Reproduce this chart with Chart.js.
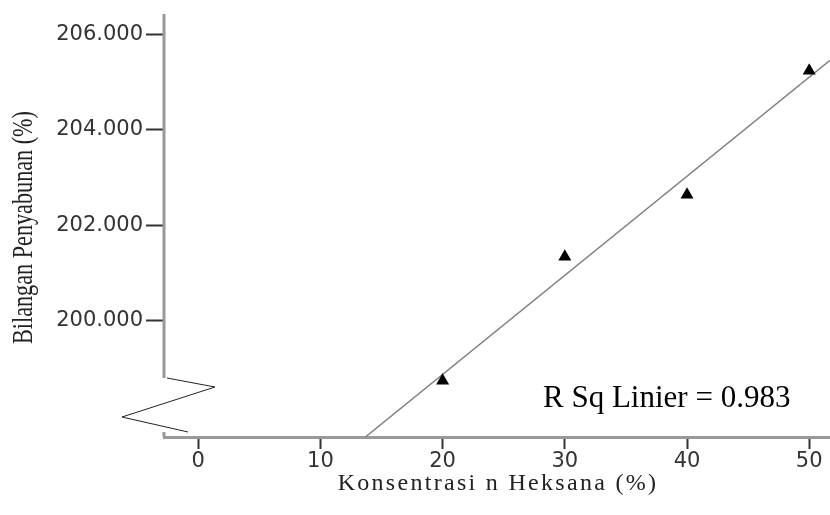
<!DOCTYPE html>
<html lang="id">
<head>
<meta charset="UTF-8">
<title>Bilangan Penyabunan vs Konsentrasi n Heksana</title>
<script src="https://cdn.jsdelivr.net/npm/chart.js@4"></script>
<style>
  html, body { margin: 0; padding: 0; background: #fff; overflow: hidden; }
  canvas { display: block; }
</style>
</head>
<body>
<canvas id="chart" width="830" height="515"></canvas>
<script>
  // values
  const konsentrasi = [20, 30, 40, 50];
  const bilangan = [198.74, 201.34, 202.64, 205.24];
  // fit line, end points as drawn in the picture
  const fitX = [13.68, 51.7];
  const fitY = [197.56, 205.46];
  const xTicks = [0, 10, 20, 30, 40, 50];
  const yTicks = [200, 202, 204, 206];
  const rSquareText = 'R Sq Linier = 0.983';
  const xTitle = 'Konsentrasi n Heksana (%)';
  const yTitle = 'Bilangan Penyabunan (%)';

  /* Axis break, titles and R square label */
  const decor = {
    id: 'decor',
    afterDraw(chart) {
      const ctx = chart.ctx;
      const a = chart.chartArea;
      const breakTop = a.bottom - 59;
      const breakEnd = a.bottom - 5;
      ctx.save();
      // y axis line with a gap for the break
      ctx.strokeStyle = '#999';
      ctx.lineWidth = 3;
      ctx.beginPath();
      ctx.moveTo(a.left, a.top);
      ctx.lineTo(a.left, breakTop);
      ctx.moveTo(a.left, breakEnd);
      ctx.lineTo(a.left, a.bottom);
      ctx.stroke();
      // zigzag
      ctx.strokeStyle = '#222';
      ctx.lineWidth = 1;
      ctx.beginPath();
      ctx.moveTo(a.left + 3, breakTop);
      ctx.lineTo(a.left + 51, breakTop + 9);
      ctx.lineTo(a.left - 42, breakTop + 39);
      ctx.lineTo(a.left + 24, breakTop + 54);
      ctx.stroke();

      ctx.fillStyle = '#222';
      // y title, narrow serif
      ctx.save();
      ctx.translate(24, (a.top + a.bottom) / 2 + 2);
      ctx.rotate(-Math.PI / 2);
      ctx.font = '30px "Liberation Serif"';
      const w = ctx.measureText(yTitle).width;
      ctx.scale(233 / w, 1);
      ctx.textAlign = 'center';
      ctx.textBaseline = 'middle';
      ctx.fillText(yTitle, 0, 0);
      ctx.restore();

      // x title, spaced serif
      ctx.save();
      ctx.font = '24px "Liberation Serif"';
      ctx.letterSpacing = '2.3px';
      ctx.textAlign = 'center';
      ctx.textBaseline = 'middle';
      ctx.fillText(xTitle, (a.left + a.right) / 2 + 1, 484);
      ctx.restore();

      // R square
      ctx.fillStyle = '#000';
      ctx.font = '31px "Liberation Serif"';
      ctx.textAlign = 'left';
      ctx.textBaseline = 'alphabetic';
      ctx.fillText(rSquareText, a.right - 287, a.bottom - 30);
      ctx.restore();
    }
  };

  const ctx = document.getElementById('chart');
  const chart = new Chart(ctx, {
    type: 'scatter',
    data: {
      datasets: [{
          label: 'Bilangan Penyabunan',
          data: konsentrasi.map((x, i) => ({ x: x, y: bilangan[i] })),
          pointStyle: 'triangle',
          pointRadius: 7.5,
          pointHoverRadius: 7.5,
          backgroundColor: '#000',
          borderColor: '#000',
          borderWidth: 0,
          order: 0
        },
        {
          type: 'line',
          label: 'Linier',
          data: fitX.map((x, i) => ({ x: x, y: fitY[i] })),
          borderColor: '#808080',
          borderWidth: 1.5,
          pointRadius: 0,
          fill: false,
          order: 1
        }
      ]
    },
    options: {
      responsive: false,
      animation: false,
      layout: { autoPadding: false, padding: { top: 14, right: 0, bottom: 0, left: 0 } },
      plugins: {
        legend: { display: false },
        tooltip: { enabled: false }
      },
      scales: {
        x: {
          type: 'linear',
          position: 'bottom',
          min: -2.8,
          max: 51.7,
          afterBuildTicks: s => { s.ticks = xTicks.map(v => ({ value: v })); },
          afterFit: s => { s.height = 78; s.paddingLeft = 0; s.paddingRight = 0; },
          ticks: {
            callback: v => String(v),
            font: { family: 'DejaVu Sans', size: 21 },
            color: '#333',
            padding: 0,
            maxRotation: 0,
            autoSkip: false
          },
          grid: { drawOnChartArea: false, tickLength: 12, tickColor: '#333', tickWidth: 2 },
          border: { color: '#999', width: 3 }
        },
        y: {
          type: 'linear',
          min: 197.56,
          max: 206.43,
          afterBuildTicks: s => { s.ticks = yTicks.map(v => ({ value: v })); },
          afterFit: s => { s.width = 164; s.paddingTop = 0; s.paddingBottom = 0; },
          ticks: {
            callback: v => v.toFixed(3),
            font: { family: 'DejaVu Sans', size: 21 },
            color: '#333',
            padding: 3
          },
          grid: { drawOnChartArea: false, tickLength: 18, tickColor: '#333', tickWidth: 2 },
          border: { display: false }
        }
      }
    },
    plugins: [decor]
  });
</script>
</body>
</html>
